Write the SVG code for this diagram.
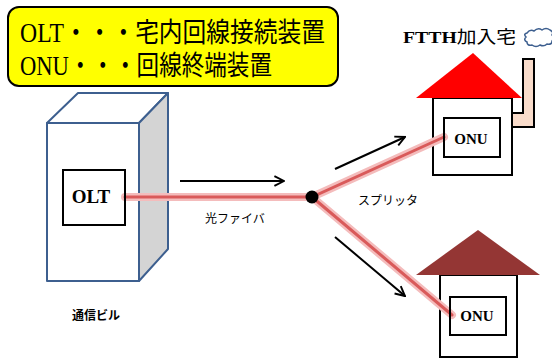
<svg xmlns="http://www.w3.org/2000/svg" width="552" height="358" viewBox="0 0 552 358">
  <defs>
    <style>
      .legend { font-family: "Liberation Serif", "Noto Sans CJK JP", serif; font-size: 27px; fill: #000; }
      .box { fill: none; stroke: #000; stroke-width: 2; }
      .lbl { font-family: "Liberation Serif", "Noto Sans CJK JP", serif; font-weight: bold; fill: #000; text-anchor: middle; }
      .cap { font-family: "Liberation Serif", "Noto Sans CJK JP", serif; font-size: 12px; fill: #000; }
      .bld { stroke: #3d5f8f; stroke-width: 2; stroke-linejoin: round; }
      .fiber-glow { fill: none; stroke: #f4bcbc; stroke-width: 8; stroke-linecap: round; }
      .fiber-core { fill: none; stroke: #d95a5a; stroke-width: 3; stroke-linecap: round; }
      .arrow { fill: none; stroke: #000; stroke-width: 2; marker-end: url(#open); }
    </style>
    <marker id="open" viewBox="0 0 10 10" refX="9" refY="5" markerWidth="6" markerHeight="6" orient="auto" markerUnits="strokeWidth">
      <path d="M1,1 L9,5 L1,9" fill="none" stroke="#000" stroke-width="1.6"/>
    </marker>
  </defs>

  <rect width="552" height="358" fill="#fff"/>

  <!-- legend -->
  <g id="legend">
    <rect x="8" y="7" width="330" height="79" rx="11" fill="#ffff00" stroke="#000" stroke-width="2"/>
    <text class="legend" x="20" y="42" textLength="305" lengthAdjust="spacingAndGlyphs">OLT・・・宅内回線接続装置</text>
    <text class="legend" x="20" y="75" textLength="252" lengthAdjust="spacingAndGlyphs">ONU・・・回線終端装置</text>
  </g>

  <!-- central office building -->
  <g id="building">
    <polygon class="bld" points="47,123 78,93 168,93 139,123" fill="#fff"/>
    <polygon class="bld" points="139,123 168,93 168,249 139,281" fill="#d4d4d4"/>
    <rect class="bld" x="47" y="123" width="92" height="158" fill="#fff"/>
    <text class="cap" x="72" y="320" font-size="12.5" font-weight="bold">通信ビル</text>
  </g>

  <!-- upper subscriber house -->
  <g id="house-top">
    <polygon points="523,59 534,59 534,127 512,127 512,113 523,113" fill="#f9dccb" stroke="#000" stroke-width="2"/>
    <rect x="433" y="98" width="79" height="77" fill="#fff" stroke="#000" stroke-width="2"/>
    <polygon points="473,53 416,98 522,98" fill="#ff0000"/>
    <text x="403" y="43" font-family="Liberation Serif, Noto Sans CJK JP, serif" font-size="17" font-weight="bold" fill="#000" textLength="113" lengthAdjust="spacingAndGlyphs">FTTH<tspan font-weight="normal">加入宅</tspan></text>
    <path d="M527,33 q3,-4 7,-2 q4,-4 8,-1 q4,-3 8,0 q4,2 2,5 q3,3 0,6 q0,4 -5,3 q-3,3 -7,1 q-4,3 -8,0 q-5,1 -5,-3 q-4,-2 -1,-5 q-3,-3 1,-4 z" fill="#fff" stroke="#3d5f8f" stroke-width="1.5"/>
  </g>

  <!-- lower subscriber house -->
  <g id="house-bottom">
    <rect x="440" y="275" width="77" height="82" fill="#fff" stroke="#000" stroke-width="2"/>
    <polygon points="478,230 416,275 540,275" fill="#943634"/>
  </g>

  <!-- fibers and direction arrows -->
  <g id="connectors">
    <path class="fiber-glow" d="M125,197 L312,197 L444,137 M312,197 L452,315"/>
    <path class="fiber-core" d="M125,197 L312,197 L444,137 M312,197 L452,315"/>
    <line class="arrow" x1="180" y1="181" x2="284" y2="181"/>
    <line class="arrow" x1="335" y1="169" x2="405" y2="137"/>
    <line class="arrow" x1="335" y1="237" x2="405" y2="296"/>
  </g>

  <g id="splitter">
    <circle cx="312" cy="197" r="6.5" fill="#000"/>
    <text class="cap" x="358" y="205" font-size="14">スプリッタ</text>
  </g>

  <g id="fiber-label">
    <text class="cap" x="205" y="223">光ファイバ</text>
  </g>

  <g id="olt">
    <rect class="box" x="63" y="170" width="62" height="55"/>
    <text class="lbl" x="91" y="203" font-size="19">OLT</text>
  </g>

  <g id="onu-top">
    <rect class="box" x="444" y="118" width="56" height="39"/>
    <text class="lbl" x="471" y="144" font-size="15">ONU</text>
  </g>

  <g id="onu-bottom">
    <rect class="box" x="450" y="297" width="56" height="38"/>
    <text class="lbl" x="477" y="321" font-size="15">ONU</text>
  </g>
</svg>
